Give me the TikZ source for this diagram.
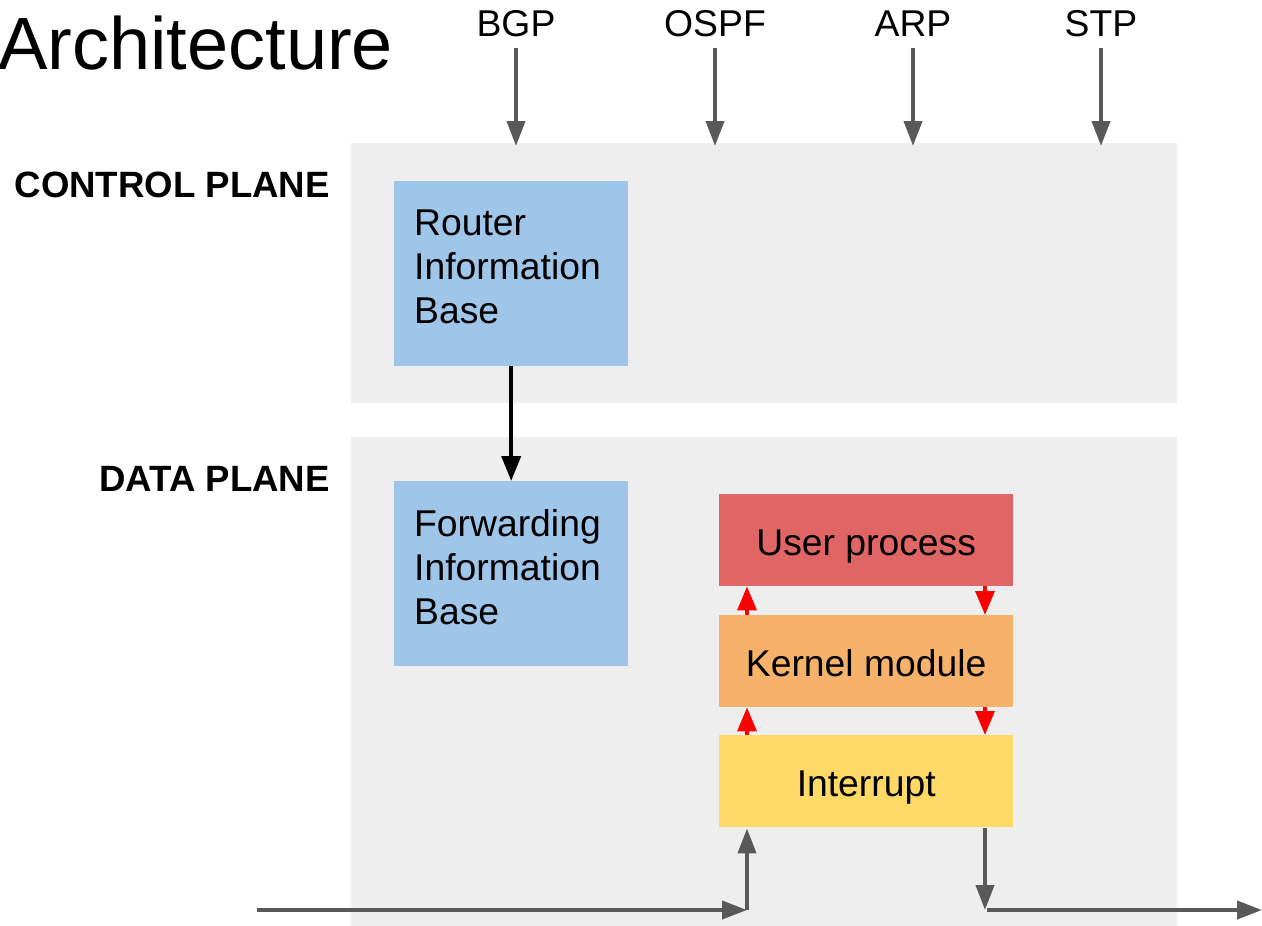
\documentclass[tikz,border=0pt]{standalone}
\usepackage{fontspec}
\setmainfont{Liberation Sans}
\usetikzlibrary{arrows.meta}
\definecolor{panelgray}{HTML}{EEEEEE}
\definecolor{arrowgray}{HTML}{595959}
\definecolor{ribblue}{HTML}{9FC5E8}
\definecolor{userred}{HTML}{E06666}
\definecolor{kernorange}{HTML}{F6B26B}
\definecolor{intyellow}{HTML}{FFD966}
\definecolor{pathred}{HTML}{FF0000}
\tikzset{
  panel/.style={fill=panelgray, draw=none, anchor=north west, inner sep=0pt, minimum width=826pt},
  infobox/.style={fill=ribblue, draw=none, anchor=north west, inner sep=0pt, minimum width=234pt, minimum height=185pt},
  stackbox/.style={draw=none, anchor=north west, inner sep=0pt, minimum width=294pt, minimum height=92pt,
    text height=30pt, text depth=0pt, font=\fontsize{37.3}{42}\selectfont},
  boxtext/.style={inner sep=0pt, anchor=west, align=left, font=\fontsize{37.3}{44}\selectfont},
  planelabel/.style={inner sep=0pt, anchor=base east, font=\fontsize{36.6}{42}\selectfont\bfseries},
  protolabel/.style={inner sep=0pt, anchor=base, font=\fontsize{37.3}{42}\selectfont},
  grayarrow/.style={draw=arrowgray, line width=4pt, -{Triangle[length=25pt,width=18pt]}},
  redarrow/.style={draw=pathred, line width=3.5pt, -{Triangle[length=24pt,width=19pt]}},
  blackarrow/.style={draw=black, line width=4pt, -{Triangle[length=25pt,width=19pt]}}
}
\begin{document}
\begin{tikzpicture}[x=1pt, y=-1pt]
  \useasboundingbox (0,0) rectangle (1262,926);

  % title
  \node[inner sep=0pt, anchor=base west, font=\fontsize{74}{80}\selectfont] (title) at (-2,69) {Architecture};

  % the two planes
  \node[panel, minimum height=260pt] (cp) at (351,143) {};
  \node[panel, minimum height=489pt] (dp) at (351,437) {};
  \node[planelabel] (cplabel) at (330,197) {CONTROL PLANE};
  \node[planelabel] (dplabel) at (330,491) {DATA PLANE};

  % routing protocols feeding the control plane
  \foreach \name/\txt/\x in {bgp/BGP/516, ospf/OSPF/715, arp/ARP/913, stp/STP/1101} {
    \node[protolabel] (\name) at (\x,36) {\txt};
    \draw[grayarrow] ([yshift=-12pt]\name.base) -- ([yshift=-3pt]\name.base |- cp.north);
  }

  % information bases
  \node[infobox] (rib) at (394,181) {};
  \node[boxtext] (ribtext) at (414,267) {Router\\Information\\Base};
  \node[infobox] (fib) at (394,481) {};
  \node[boxtext] (fibtext) at (414,567) {Forwarding\\Information\\Base};
  \draw[blackarrow] (rib.south) -- (fib.north);

  % processing stack
  \node[stackbox, fill=userred] (user) at (719,494) {User process};
  \node[stackbox, fill=kernorange] (kern) at (719,615) {Kernel module};
  \node[stackbox, fill=intyellow] (intr) at (719,735) {Interrupt};

  \draw[redarrow] ([xshift=28pt]kern.north west) -- ([xshift=28pt]user.south west);
  \draw[redarrow] ([xshift=266pt]user.south west) -- ([xshift=266pt]kern.north west);
  \draw[redarrow] ([xshift=28pt]intr.north west) -- ([xshift=28pt]kern.south west);
  \draw[redarrow] ([xshift=266pt]kern.south west) -- ([xshift=266pt]intr.north west);

  % packet path through the data plane
  \coordinate (pktin) at (257,910);
  \coordinate (upcorner) at (747,910);
  \coordinate (downcorner) at (985,910);
  \coordinate (pktout) at (1262,910);
  \draw[grayarrow] (pktin) -- (upcorner);
  \draw[grayarrow] (upcorner) -- ([xshift=28pt,yshift=-1pt]intr.south west);
  \draw[grayarrow] ([xshift=266pt,yshift=-1pt]intr.south west) -- (downcorner);
  \draw[grayarrow] ([xshift=2pt]downcorner) -- (pktout);
\end{tikzpicture}
\end{document}
